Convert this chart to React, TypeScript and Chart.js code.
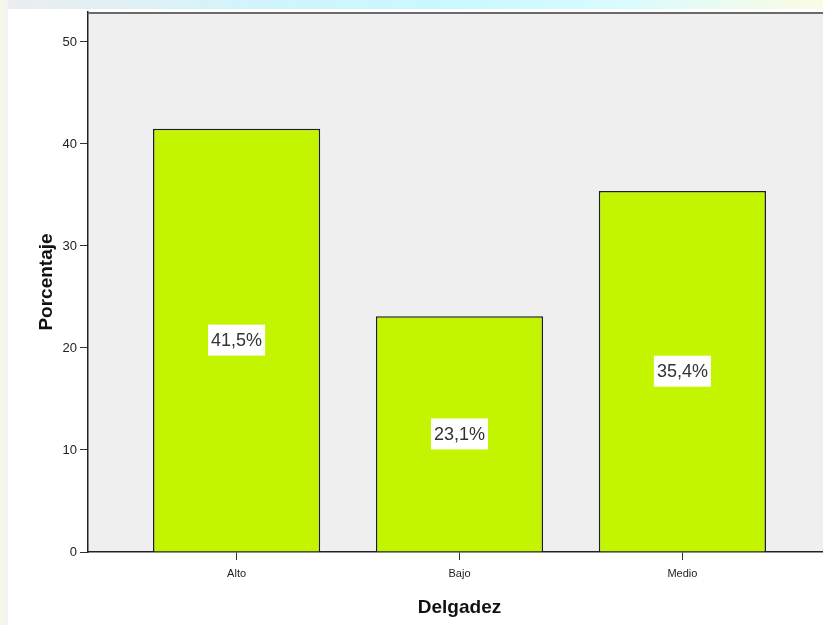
import { useEffect, useRef } from "react";
import { Chart, registerables } from "chart.js";

Chart.register(...registerables);

const categories = ["Alto", "Bajo", "Medio"];
const percentages = [41.5, 23.1, 35.4];
const yTicks = [0, 10, 20, 30, 40, 50];
const xTitle = "Delgadez";
const yTitle = "Porcentaje";

const FONT = "'Liberation Sans', Arial, Helvetica, sans-serif";

export default function App() {
  const ref = useRef<HTMLCanvasElement>(null);

  useEffect(() => {
    const canvas = ref.current;
    if (!canvas) return;

    const plotBg = {
      id: "plotBg",
      beforeDraw(chart: any) {
        const { ctx, chartArea: a } = chart;
        ctx.save();
        ctx.fillStyle = "#efefef";
        ctx.fillRect(a.left, a.top, a.right - a.left, a.bottom - a.top);
        ctx.restore();
      },
      afterDraw(chart: any) {
        const { ctx, chartArea: a } = chart;
        ctx.save();
        ctx.strokeStyle = "#6a6a6a";
        ctx.lineWidth = 2;
        ctx.beginPath();
        ctx.moveTo(a.left, a.top + 1);
        ctx.lineTo(a.right, a.top + 1);
        ctx.stroke();
        ctx.restore();
      },
    };

    const barLabels = {
      id: "barLabels",
      afterDatasetsDraw(chart: any) {
        const { ctx } = chart;
        const meta = chart.getDatasetMeta(0);
        ctx.save();
        ctx.font = `18px ${FONT}`;
        meta.data.forEach((el: any, i: number) => {
          const { x, y, base } = el.getProps(["x", "y", "base"], true);
          const cy = (y + base) / 2;
          const text = percentages[i].toFixed(1).replace(".", ",") + "%";
          const w = ctx.measureText(text).width + 6;
          const h = 31;
          ctx.fillStyle = "#ffffff";
          ctx.fillRect(x - w / 2, cy - h / 2, w, h);
          ctx.fillStyle = "#333333";
          ctx.textAlign = "center";
          ctx.textBaseline = "middle";
          ctx.fillText(text, x, cy + 1);
        });
        ctx.restore();
      },
    };

    const chart = new Chart(canvas, {
      type: "bar",
      data: {
        datasets: [
          {
            data: percentages.map((v, i) => ({ x: i, y: v })),
            backgroundColor: "#c4f500",
            borderColor: "#1e1e1e",
            borderWidth: 1.5,
            barPercentage: 0.75,
            categoryPercentage: 1,
          } as any,
        ],
      },
      options: {
        animation: false,
        responsive: false,
        layout: { padding: { top: 3, right: 0, left: 0, bottom: 0 } },
        plugins: {
          legend: { display: false },
          tooltip: { enabled: false },
        },
        scales: {
          x: {
            type: "linear",
            offset: false,
            min: -2 / 3,
            max: 2 + 2 / 3,
            afterBuildTicks: (s: any) => {
              s.ticks = categories.map((_, i) => ({ value: i }));
            },
            afterFit: (s: any) => {
              s.height = 73;
              s.paddingLeft = 0;
              s.paddingRight = 0;
            },
            ticks: {
              callback: (v: any) => categories[v as number] ?? "",
              font: { family: FONT, size: 11 },
              color: "#222222",
              padding: 7,
              maxRotation: 0,
              autoSkip: false,
            },
            grid: {
              offset: false,
              drawOnChartArea: false,
              drawTicks: true,
              tickLength: 8,
              color: "#333333",
              lineWidth: 1,
            },
            border: { display: true, color: "#222222", width: 1.5 },
            title: {
              display: true,
              text: xTitle,
              font: { family: FONT, size: 19, weight: "bold" },
              color: "#111111",
              padding: { top: 0, bottom: 6 },
            },
          },
          y: {
            type: "linear",
            min: 0,
            max: 52.94,
            afterBuildTicks: (s: any) => {
              s.ticks = yTicks.map((v) => ({ value: v }));
            },
            afterFit: (s: any) => {
              s.width = 80;
              s.paddingTop = 0;
              s.paddingBottom = 0;
            },
            ticks: {
              font: { family: FONT, size: 13 },
              color: "#222222",
              padding: 3,
            },
            grid: {
              drawOnChartArea: false,
              drawTicks: true,
              tickLength: 8,
              color: "#333333",
              lineWidth: 1,
            },
            border: { display: true, color: "#222222", width: 1.5 },
            title: {
              display: true,
              text: yTitle,
              font: { family: FONT, size: 19, weight: "bold" },
              color: "#111111",
              padding: { top: 27, bottom: 0 },
            },
          },
        },
      },
      plugins: [plotBg, barLabels],
    });

    return () => chart.destroy();
  }, []);

  return (
    <div
      style={{
        position: "fixed",
        left: 0,
        top: 0,
        width: 823,
        height: 625,
        overflow: "hidden",
        background:
          "linear-gradient(to right, #f8f8e6 0px, #f3f3f6 8px, transparent 8px), linear-gradient(to right, #ececee 0%, #d2f4fb 30%, #c9f8ff 55%, #d8fbff 75%, #fbfbe2 100%)",
      }}
    >
      <canvas
        ref={ref}
        width={823}
        height={616}
        style={{
          position: "absolute",
          left: 8,
          top: 9,
          width: 823,
          height: 616,
          background: "#ffffff",
          display: "block",
        }}
      />
    </div>
  );
}
